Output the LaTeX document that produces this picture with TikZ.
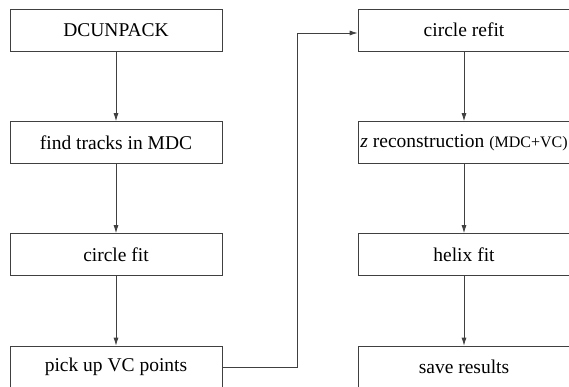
\documentclass[tikz,border=0pt]{standalone}
\usepackage{fontspec}
\setmainfont{Liberation Serif}
\usetikzlibrary{arrows.meta}
\begin{document}
\begin{tikzpicture}[x=1pt,y=-1pt,
  box/.style={draw=black!75, line width=0.75pt, minimum width=212pt, minimum height=42pt,
    inner sep=0pt, font=\fontsize{19.5}{23}\selectfont},
  conn/.style={draw=black!75, line width=0.75pt, -{Latex[length=8pt,width=5pt]}},
  link/.style={draw=black!75, line width=0.75pt}]
\useasboundingbox (0,0) rectangle (569,387);
\begin{scope}
\clip (0,0) rectangle (569,387);
\node[box] (a) at (116,30) {DCUNPACK};
\node[box] (b) at (116,142.5) {find tracks in MDC};
\node[box] (c) at (116,254.5) {circle fit};
\node[box] (d) at (116,367) {pick up VC points};
\node[box] (e) at (464,30) {circle refit};
\node[box] (f) at (464,142.5) {\textit{z} reconstruction {\fontsize{16}{19}\selectfont(MDC+VC)}};
\node[box] (g) at (464,254.5) {helix fit};
\node[box] (h) at (464,367) {save results};
\coordinate (k) at (297,33);
\end{scope}
\draw[conn] (a) -- (b);
\draw[conn] (b) -- (c);
\draw[conn] (c) -- (d);
\draw[link] (d.east) -| (k);
\draw[conn] (k) -- (k -| e.west);
\draw[conn] (e) -- (f);
\draw[conn] (f) -- (g);
\draw[conn] (g) -- (h);
\end{tikzpicture}
\end{document}
